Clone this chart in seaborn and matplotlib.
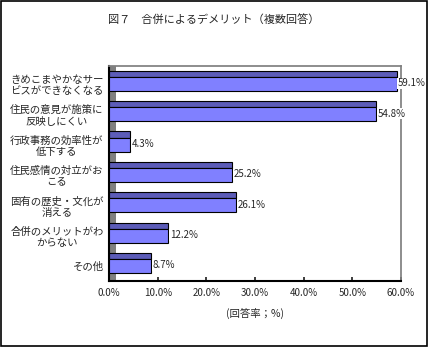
import matplotlib
matplotlib.use("Agg")
import matplotlib.pyplot as plt
import seaborn as sns
import pandas as pd
from matplotlib.ticker import FuncFormatter, FixedLocator

categories = ["きめこまやかなサー\nビスができなくなる",
              "住民の意見が施策に\n反映しにくい",
              "行政事務の効率性が\n低下する",
              "住民感情の対立がお\nこる",
              "固有の歴史・文化が\n消える",
              "合併のメリットがわ\nからない",
              "その他"]
values = [59.1, 54.8, 4.3, 25.2, 26.1, 12.2, 8.7]
xticks = [0, 10, 20, 30, 40, 50, 60]

sns.set_theme(style="white")
plt.rcParams['font.family'] = ['Noto Sans CJK JP', 'DejaVu Sans']

df = pd.DataFrame({"cat": categories, "val": values})
n = len(values)

fig = plt.figure(figsize=(4.28, 3.47), dpi=100)
ax = fig.add_axes([0.255, 0.19, 0.682, 0.62])

# gray side wall
ax.axvspan(0, 1.5, color="#808080", zorder=1, lw=0)
# darker top face (3D look)
ax.barh([i - 0.33 for i in range(n)], values, height=0.2,
        color="#5c5cb8", edgecolor="black", linewidth=0.8, zorder=2)
sns.barplot(data=df, y="cat", x="val", orient="h", color="#8080ff",
            saturation=1, edgecolor="black", linewidth=0.8, width=0.46,
            ax=ax, zorder=3)

for i, v in enumerate(values):
    ax.text(v + 0.3, i - 0.02, f"{v:.1f}%", va="center", ha="left",
            fontsize=7, bbox=dict(facecolor="white", edgecolor="none", pad=0.5),
            zorder=4)

ax.set_xlim(0, 60)
ax.set_ylim(n - 0.5, -0.59)
ax.set_xticks(xticks)
ax.xaxis.set_major_formatter(FuncFormatter(lambda x, p: f"{x:.1f}%"))
ax.yaxis.set_minor_locator(FixedLocator([i + 0.5 for i in range(-1, n - 1)]))
ax.tick_params(axis="x", labelsize=7, length=3, direction="in", bottom=True, pad=5)
ax.tick_params(axis="y", labelsize=7.5, length=0, pad=4)
ax.tick_params(axis="y", which="minor", length=3, direction="in", left=True, color="black")
for lbl in ax.get_yticklabels():
    lbl.set_horizontalalignment("right")
    lbl.set_multialignment("center")
ax.set_xlabel("(回答率；%)", fontsize=7.5, labelpad=7)
ax.set_ylabel("")
for s in ["top", "right"]:
    ax.spines[s].set_color("#808080")
for s in ["left", "bottom"]:
    ax.spines[s].set_color("black")
    ax.spines[s].set_linewidth(1.5)

fig.text(0.5, 0.94, "図７　合併によるデメリット（複数回答）", ha="center",
         va="center", fontsize=8)
fig.patches.append(plt.Rectangle((0.002, 0.002), 0.996, 0.996, transform=fig.transFigure,
                                 fill=False, edgecolor="black", linewidth=1.2))

fig.savefig("out.png", dpi=100)
